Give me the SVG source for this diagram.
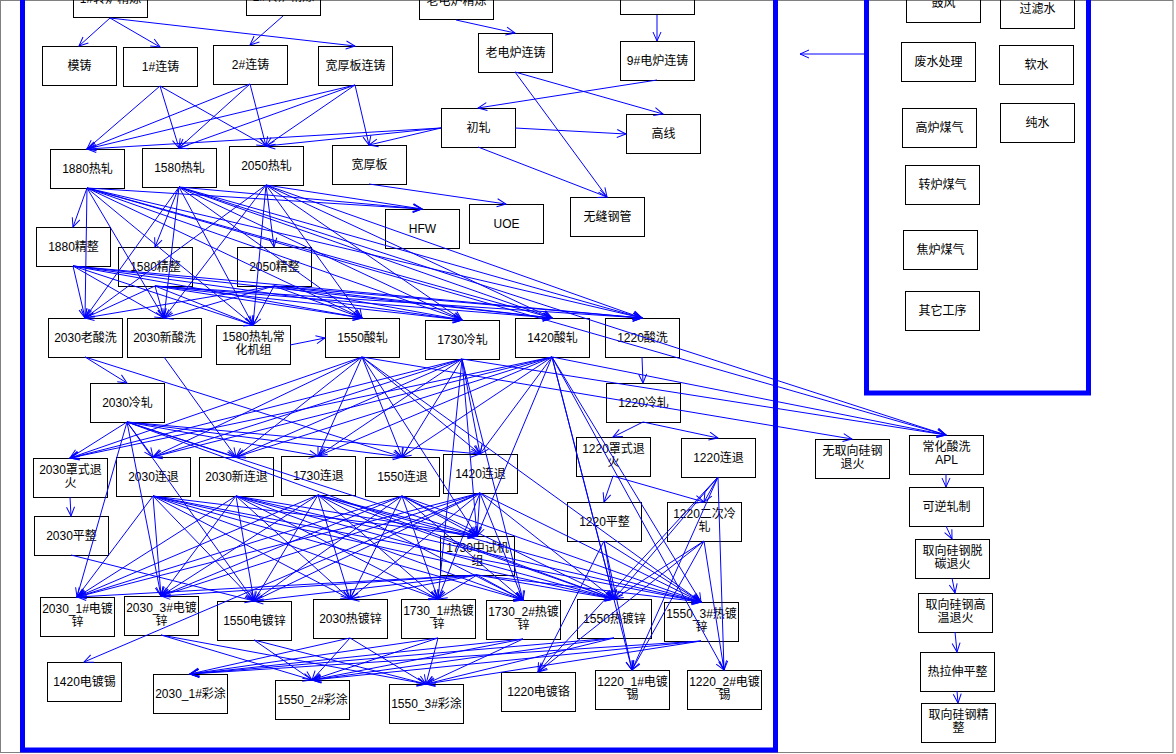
<svg xmlns="http://www.w3.org/2000/svg" width="1176" height="754" viewBox="0 0 1176 754">
<defs>
<marker id="a" markerUnits="userSpaceOnUse" markerWidth="20" markerHeight="20" refX="0" refY="0" orient="auto" style="overflow:visible"><path d="M-9,-4 L0,0 L-9,4" fill="none" stroke="#0000ff" stroke-width="1"/></marker>
<style>
.n rect{fill:none;stroke:#000;stroke-width:1}
text{font-family:"Liberation Sans","Noto Sans CJK SC",sans-serif;font-size:12px;text-anchor:middle;fill:#000}
#connectors line{stroke:#0000ff;stroke-width:1;marker-end:url(#a)}
.frame{fill:none;stroke:#0000ff;stroke-width:5}
</style>
</defs>
<rect width="1176" height="754" fill="#fff"/>
<rect x="0.5" y="0.5" width="1172.5" height="752" fill="none" stroke="#808080" stroke-width="1"/>
<rect class="frame" x="22.5" y="-10" width="753" height="760"/>
<rect class="frame" x="866.5" y="-10" width="222" height="403"/>

<g id="n_zl1" class="n"><rect x="73.5" y="-21.5" width="74" height="39"/><text x="110.5" y="3">1#转炉精炼</text></g>
<g id="n_zl2" class="n"><rect x="246.5" y="-23.5" width="74" height="39"/><text x="283.5" y="1">2#转炉精炼</text></g>
<g id="n_ldl" class="n"><rect x="419.5" y="-19.5" width="74" height="39"/><text x="456.5" y="5">老电炉精炼</text></g>
<g id="n_dl9" class="n"><rect x="620.5" y="-24.5" width="74" height="39"/></g>
<g id="n_mz" class="n"><rect x="42.5" y="46.5" width="74" height="39"/><text x="79.5" y="70">模铸</text></g>
<g id="n_lz1" class="n"><rect x="123.5" y="47.5" width="74" height="39"/><text x="160.5" y="71">1#连铸</text></g>
<g id="n_lz2" class="n"><rect x="213.5" y="45.5" width="74" height="39"/><text x="250.5" y="69">2#连铸</text></g>
<g id="n_kbl" class="n"><rect x="318.5" y="46.5" width="74" height="39"/><text x="355.5" y="70">宽厚板连铸</text></g>
<g id="n_ldlz" class="n"><rect x="478.5" y="33.5" width="74" height="39"/><text x="515.5" y="57">老电炉连铸</text></g>
<g id="n_dl9z" class="n"><rect x="620.5" y="41.5" width="74" height="39"/><text x="657.5" y="65">9#电炉连铸</text></g>
<g id="n_r1880" class="n"><rect x="50.5" y="149.5" width="74" height="39"/><text x="87.5" y="173">1880热轧</text></g>
<g id="n_r1580" class="n"><rect x="142.5" y="148.5" width="74" height="39"/><text x="179.5" y="172">1580热轧</text></g>
<g id="n_r2050" class="n"><rect x="229.5" y="146.5" width="74" height="39"/><text x="266.5" y="170">2050热轧</text></g>
<g id="n_kb" class="n"><rect x="332.5" y="145.5" width="74" height="39"/><text x="369.5" y="169">宽厚板</text></g>
<g id="n_cz" class="n"><rect x="441.5" y="108.5" width="74" height="39"/><text x="478.5" y="132">初轧</text></g>
<g id="n_gx" class="n"><rect x="626.5" y="114.5" width="74" height="39"/><text x="663.5" y="138">高线</text></g>
<g id="n_wf" class="n"><rect x="570.5" y="197.5" width="74" height="39"/><text x="607.5" y="221">无缝钢管</text></g>
<g id="n_hfw" class="n"><rect x="385.5" y="209.5" width="74" height="39"/><text x="422.5" y="233">HFW</text></g>
<g id="n_uoe" class="n"><rect x="469.5" y="204.5" width="74" height="39"/><text x="506.5" y="228">UOE</text></g>
<g id="n_jz1880" class="n"><rect x="36.5" y="227.5" width="74" height="39"/><text x="73.5" y="251">1880精整</text></g>
<g id="n_jz1580" class="n"><rect x="118.5" y="247.5" width="74" height="39"/><text x="155.5" y="271">1580精整</text></g>
<g id="n_jz2050" class="n"><rect x="237.5" y="247.5" width="74" height="39"/><text x="274.5" y="271">2050精整</text></g>
<g id="n_ls2030o" class="n"><rect x="48.5" y="318.5" width="74" height="39"/><text x="85.5" y="342">2030老酸洗</text></g>
<g id="n_ls2030n" class="n"><rect x="127.5" y="318.5" width="74" height="39"/><text x="164.5" y="342">2030新酸洗</text></g>
<g id="n_ch1580" class="n"><rect x="216.5" y="325.5" width="74" height="39"/><text x="253.5" y="341">1580热轧常</text><text x="253.5" y="354">化机组</text></g>
<g id="n_sz1550" class="n"><rect x="325.5" y="318.5" width="74" height="39"/><text x="362.5" y="342">1550酸轧</text></g>
<g id="n_lz1730" class="n"><rect x="425.5" y="320.5" width="74" height="39"/><text x="462.5" y="344">1730冷轧</text></g>
<g id="n_sz1420" class="n"><rect x="515.5" y="318.5" width="74" height="39"/><text x="552.5" y="342">1420酸轧</text></g>
<g id="n_sx1220" class="n"><rect x="605.5" y="318.5" width="74" height="39"/><text x="642.5" y="342">1220酸洗</text></g>
<g id="n_lz2030" class="n"><rect x="90.5" y="383.5" width="74" height="39"/><text x="127.5" y="407">2030冷轧</text></g>
<g id="n_lz1220" class="n"><rect x="606.5" y="383.5" width="74" height="39"/><text x="643.5" y="407">1220冷轧</text></g>
<g id="n_zs2030" class="n"><rect x="33.5" y="458.5" width="74" height="39"/><text x="70.5" y="474">2030罩式退</text><text x="70.5" y="487">火</text></g>
<g id="n_lt2030" class="n"><rect x="116.5" y="457.5" width="74" height="39"/><text x="153.5" y="481">2030连退</text></g>
<g id="n_xlt2030" class="n"><rect x="199.5" y="457.5" width="74" height="39"/><text x="236.5" y="481">2030新连退</text></g>
<g id="n_lt1730" class="n"><rect x="281.5" y="456.5" width="74" height="39"/><text x="318.5" y="480">1730连退</text></g>
<g id="n_lt1550" class="n"><rect x="365.5" y="457.5" width="74" height="39"/><text x="402.5" y="481">1550连退</text></g>
<g id="n_lt1420" class="n"><rect x="443.5" y="454.5" width="74" height="39"/><text x="480.5" y="478">1420连退</text></g>
<g id="n_zs1220" class="n"><rect x="576.5" y="437.5" width="74" height="39"/><text x="613.5" y="453">1220罩式退</text><text x="613.5" y="466">火</text></g>
<g id="n_lt1220" class="n"><rect x="681.5" y="438.5" width="74" height="39"/><text x="718.5" y="462">1220连退</text></g>
<g id="n_pz2030" class="n"><rect x="34.5" y="516.5" width="74" height="39"/><text x="71.5" y="540">2030平整</text></g>
<g id="n_zs1730" class="n"><rect x="440.5" y="536.5" width="74" height="39"/><text x="477.5" y="552">1730中试机</text><text x="477.5" y="565">组</text></g>
<g id="n_pz1220" class="n"><rect x="567.5" y="502.5" width="74" height="39"/><text x="604.5" y="526">1220平整</text></g>
<g id="n_ec1220" class="n"><rect x="667.5" y="502.5" width="74" height="39"/><text x="704.5" y="518">1220二次冷</text><text x="704.5" y="531">轧</text></g>
<g id="n_dx2030_1" class="n"><rect x="40.5" y="597.5" width="74" height="39"/><text x="77.5" y="613">2030_1#电镀</text><text x="77.5" y="626">锌</text></g>
<g id="n_dx2030_3" class="n"><rect x="124.5" y="596.5" width="74" height="39"/><text x="161.5" y="612">2030_3#电镀</text><text x="161.5" y="625">锌</text></g>
<g id="n_dx1550" class="n"><rect x="217.5" y="601.5" width="74" height="39"/><text x="254.5" y="625">1550电镀锌</text></g>
<g id="n_rx2030" class="n"><rect x="313.5" y="599.5" width="74" height="39"/><text x="350.5" y="623">2030热镀锌</text></g>
<g id="n_rx1730_1" class="n"><rect x="401.5" y="599.5" width="74" height="39"/><text x="438.5" y="615">1730_1#热镀</text><text x="438.5" y="628">锌</text></g>
<g id="n_rx1730_2" class="n"><rect x="486.5" y="600.5" width="74" height="39"/><text x="523.5" y="616">1730_2#热镀</text><text x="523.5" y="629">锌</text></g>
<g id="n_rx1550" class="n"><rect x="577.5" y="599.5" width="74" height="39"/><text x="614.5" y="623">1550热镀锌</text></g>
<g id="n_rx1550_3" class="n"><rect x="664.5" y="602.5" width="74" height="39"/><text x="701.5" y="618">1550_3#热镀</text><text x="701.5" y="631">锌</text></g>
<g id="n_dx1420" class="n"><rect x="47.5" y="662.5" width="74" height="39"/><text x="84.5" y="686">1420电镀锡</text></g>
<g id="n_ct2030_1" class="n"><rect x="153.5" y="674.5" width="74" height="39"/><text x="190.5" y="698">2030_1#彩涂</text></g>
<g id="n_ct1550_2" class="n"><rect x="275.5" y="680.5" width="74" height="39"/><text x="312.5" y="704">1550_2#彩涂</text></g>
<g id="n_ct1550_3" class="n"><rect x="389.5" y="684.5" width="74" height="39"/><text x="426.5" y="708">1550_3#彩涂</text></g>
<g id="n_dg1220" class="n"><rect x="501.5" y="672.5" width="74" height="39"/><text x="538.5" y="696">1220电镀铬</text></g>
<g id="n_dx1220_1" class="n"><rect x="595.5" y="670.5" width="74" height="39"/><text x="632.5" y="686">1220_1#电镀</text><text x="632.5" y="699">锡</text></g>
<g id="n_dx1220_2" class="n"><rect x="687.5" y="670.5" width="74" height="39"/><text x="724.5" y="686">1220_2#电镀</text><text x="724.5" y="699">锡</text></g>
<g id="n_wqx" class="n"><rect x="815.5" y="439.5" width="74" height="39"/><text x="852.5" y="455">无取向硅钢</text><text x="852.5" y="468">退火</text></g>
<g id="n_apl" class="n"><rect x="909.5" y="435.5" width="74" height="39"/><text x="946.5" y="451">常化酸洗</text><text x="946.5" y="464">APL</text></g>
<g id="n_kn" class="n"><rect x="909.5" y="487.5" width="74" height="39"/><text x="946.5" y="511">可逆轧制</text></g>
<g id="n_tt" class="n"><rect x="915.5" y="539.5" width="74" height="39"/><text x="952.5" y="555">取向硅钢脱</text><text x="952.5" y="568">碳退火</text></g>
<g id="n_gw" class="n"><rect x="918.5" y="593.5" width="74" height="39"/><text x="955.5" y="609">取向硅钢高</text><text x="955.5" y="622">温退火</text></g>
<g id="n_lsp" class="n"><rect x="920.5" y="652.5" width="74" height="39"/><text x="957.5" y="676">热拉伸平整</text></g>
<g id="n_jzq" class="n"><rect x="921.5" y="703.5" width="74" height="39"/><text x="958.5" y="719">取向硅钢精</text><text x="958.5" y="732">整</text></g>
<g id="n_gf" class="n"><rect x="906.5" y="-16.5" width="74" height="39"/><text x="943.5" y="7">鼓风</text></g>
<g id="n_glv" class="n"><rect x="1000.5" y="-10.5" width="74" height="39"/><text x="1037.5" y="13">过滤水</text></g>
<g id="n_fs" class="n"><rect x="901.5" y="42.5" width="74" height="39"/><text x="938.5" y="66">废水处理</text></g>
<g id="n_rs" class="n"><rect x="999.5" y="45.5" width="74" height="39"/><text x="1036.5" y="69">软水</text></g>
<g id="n_gl" class="n"><rect x="902.5" y="108.5" width="74" height="39"/><text x="939.5" y="132">高炉煤气</text></g>
<g id="n_cs" class="n"><rect x="1000.5" y="103.5" width="74" height="39"/><text x="1037.5" y="127">纯水</text></g>
<g id="n_zlm" class="n"><rect x="905.5" y="165.5" width="74" height="39"/><text x="942.5" y="189">转炉煤气</text></g>
<g id="n_jlm" class="n"><rect x="903.5" y="230.5" width="74" height="39"/><text x="940.5" y="254">焦炉煤气</text></g>
<g id="n_qt" class="n"><rect x="905.5" y="291.5" width="74" height="39"/><text x="942.5" y="315">其它工序</text></g>

<g id="connectors">
<line x1="866" y1="54" x2="800" y2="54"/>
<line x1="110" y1="18" x2="79" y2="46"/>
<line x1="110" y1="18" x2="160" y2="47"/>
<line x1="110" y1="18" x2="355" y2="46"/>
<line x1="283" y1="16" x2="250" y2="45"/>
<line x1="456" y1="20" x2="515" y2="33"/>
<line x1="657" y1="15" x2="657" y2="41"/>
<line x1="160" y1="86" x2="87" y2="149"/>
<line x1="160" y1="86" x2="179" y2="148"/>
<line x1="160" y1="86" x2="266" y2="146"/>
<line x1="250" y1="84" x2="87" y2="149"/>
<line x1="250" y1="84" x2="179" y2="148"/>
<line x1="250" y1="84" x2="266" y2="146"/>
<line x1="355" y1="85" x2="87" y2="149"/>
<line x1="355" y1="85" x2="179" y2="148"/>
<line x1="355" y1="85" x2="266" y2="146"/>
<line x1="355" y1="85" x2="369" y2="145"/>
<line x1="515" y1="72" x2="663" y2="114"/>
<line x1="515" y1="72" x2="607" y2="197"/>
<line x1="657" y1="80" x2="478" y2="108"/>
<line x1="441" y1="128" x2="87" y2="149"/>
<line x1="441" y1="128" x2="266" y2="146"/>
<line x1="441" y1="128" x2="369" y2="145"/>
<line x1="515" y1="128" x2="626" y2="134"/>
<line x1="478" y1="147" x2="607" y2="197"/>
<line x1="369" y1="184" x2="506" y2="204"/>
<line x1="87" y1="188" x2="422" y2="209"/>
<line x1="179" y1="187" x2="422" y2="209"/>
<line x1="266" y1="185" x2="422" y2="209"/>
<line x1="87" y1="188" x2="73" y2="227"/>
<line x1="179" y1="187" x2="155" y2="247"/>
<line x1="266" y1="185" x2="274" y2="247"/>
<line x1="87" y1="188" x2="85" y2="318"/>
<line x1="87" y1="188" x2="164" y2="318"/>
<line x1="87" y1="188" x2="253" y2="325"/>
<line x1="87" y1="188" x2="362" y2="318"/>
<line x1="87" y1="188" x2="462" y2="320"/>
<line x1="87" y1="188" x2="552" y2="318"/>
<line x1="87" y1="188" x2="642" y2="318"/>
<line x1="179" y1="187" x2="85" y2="318"/>
<line x1="179" y1="187" x2="164" y2="318"/>
<line x1="179" y1="187" x2="253" y2="325"/>
<line x1="179" y1="187" x2="362" y2="318"/>
<line x1="179" y1="187" x2="462" y2="320"/>
<line x1="179" y1="187" x2="552" y2="318"/>
<line x1="179" y1="187" x2="642" y2="318"/>
<line x1="266" y1="185" x2="85" y2="318"/>
<line x1="266" y1="185" x2="164" y2="318"/>
<line x1="266" y1="185" x2="253" y2="325"/>
<line x1="266" y1="185" x2="362" y2="318"/>
<line x1="266" y1="185" x2="462" y2="320"/>
<line x1="266" y1="185" x2="552" y2="318"/>
<line x1="266" y1="185" x2="642" y2="318"/>
<line x1="73" y1="266" x2="85" y2="318"/>
<line x1="73" y1="266" x2="164" y2="318"/>
<line x1="73" y1="266" x2="253" y2="325"/>
<line x1="73" y1="266" x2="362" y2="318"/>
<line x1="73" y1="266" x2="462" y2="320"/>
<line x1="73" y1="266" x2="552" y2="318"/>
<line x1="73" y1="266" x2="642" y2="318"/>
<line x1="155" y1="286" x2="85" y2="318"/>
<line x1="155" y1="286" x2="164" y2="318"/>
<line x1="155" y1="286" x2="253" y2="325"/>
<line x1="155" y1="286" x2="362" y2="318"/>
<line x1="155" y1="286" x2="462" y2="320"/>
<line x1="155" y1="286" x2="552" y2="318"/>
<line x1="155" y1="286" x2="642" y2="318"/>
<line x1="274" y1="286" x2="85" y2="318"/>
<line x1="274" y1="286" x2="164" y2="318"/>
<line x1="274" y1="286" x2="253" y2="325"/>
<line x1="274" y1="286" x2="362" y2="318"/>
<line x1="274" y1="286" x2="462" y2="320"/>
<line x1="274" y1="286" x2="552" y2="318"/>
<line x1="274" y1="286" x2="642" y2="318"/>
<line x1="87" y1="188" x2="946" y2="435"/>
<line x1="179" y1="187" x2="946" y2="435"/>
<line x1="552" y1="357" x2="946" y2="435"/>
<line x1="462" y1="359" x2="946" y2="435"/>
<line x1="362" y1="357" x2="852" y2="439"/>
<line x1="290" y1="345" x2="325" y2="338"/>
<line x1="85" y1="357" x2="127" y2="383"/>
<line x1="85" y1="357" x2="402" y2="457"/>
<line x1="164" y1="357" x2="236" y2="457"/>
<line x1="642" y1="357" x2="643" y2="383"/>
<line x1="643" y1="422" x2="613" y2="437"/>
<line x1="643" y1="422" x2="718" y2="438"/>
<line x1="127" y1="422" x2="70" y2="458"/>
<line x1="127" y1="422" x2="153" y2="457"/>
<line x1="127" y1="422" x2="236" y2="457"/>
<line x1="127" y1="422" x2="318" y2="456"/>
<line x1="127" y1="422" x2="402" y2="457"/>
<line x1="127" y1="422" x2="480" y2="454"/>
<line x1="127" y1="422" x2="477" y2="536"/>
<line x1="362" y1="357" x2="70" y2="458"/>
<line x1="362" y1="357" x2="153" y2="457"/>
<line x1="362" y1="357" x2="236" y2="457"/>
<line x1="362" y1="357" x2="318" y2="456"/>
<line x1="362" y1="357" x2="402" y2="457"/>
<line x1="362" y1="357" x2="480" y2="454"/>
<line x1="362" y1="357" x2="477" y2="536"/>
<line x1="462" y1="359" x2="70" y2="458"/>
<line x1="462" y1="359" x2="153" y2="457"/>
<line x1="462" y1="359" x2="236" y2="457"/>
<line x1="462" y1="359" x2="318" y2="456"/>
<line x1="462" y1="359" x2="402" y2="457"/>
<line x1="462" y1="359" x2="480" y2="454"/>
<line x1="462" y1="359" x2="477" y2="536"/>
<line x1="552" y1="357" x2="70" y2="458"/>
<line x1="552" y1="357" x2="153" y2="457"/>
<line x1="552" y1="357" x2="236" y2="457"/>
<line x1="552" y1="357" x2="318" y2="456"/>
<line x1="552" y1="357" x2="402" y2="457"/>
<line x1="552" y1="357" x2="480" y2="454"/>
<line x1="552" y1="357" x2="477" y2="536"/>
<line x1="153" y1="496" x2="477" y2="536"/>
<line x1="236" y1="496" x2="477" y2="536"/>
<line x1="318" y1="495" x2="477" y2="536"/>
<line x1="402" y1="496" x2="477" y2="536"/>
<line x1="480" y1="493" x2="477" y2="536"/>
<line x1="70" y1="497" x2="71" y2="516"/>
<line x1="71" y1="555" x2="254" y2="601"/>
<line x1="127" y1="422" x2="77" y2="597"/>
<line x1="127" y1="422" x2="161" y2="596"/>
<line x1="127" y1="422" x2="254" y2="601"/>
<line x1="127" y1="422" x2="614" y2="599"/>
<line x1="153" y1="496" x2="77" y2="597"/>
<line x1="153" y1="496" x2="161" y2="596"/>
<line x1="153" y1="496" x2="254" y2="601"/>
<line x1="153" y1="496" x2="350" y2="599"/>
<line x1="153" y1="496" x2="438" y2="599"/>
<line x1="153" y1="496" x2="523" y2="600"/>
<line x1="153" y1="496" x2="614" y2="599"/>
<line x1="153" y1="496" x2="701" y2="602"/>
<line x1="236" y1="496" x2="77" y2="597"/>
<line x1="236" y1="496" x2="161" y2="596"/>
<line x1="236" y1="496" x2="254" y2="601"/>
<line x1="236" y1="496" x2="350" y2="599"/>
<line x1="236" y1="496" x2="438" y2="599"/>
<line x1="236" y1="496" x2="523" y2="600"/>
<line x1="236" y1="496" x2="614" y2="599"/>
<line x1="236" y1="496" x2="701" y2="602"/>
<line x1="318" y1="495" x2="77" y2="597"/>
<line x1="318" y1="495" x2="161" y2="596"/>
<line x1="318" y1="495" x2="254" y2="601"/>
<line x1="318" y1="495" x2="350" y2="599"/>
<line x1="318" y1="495" x2="438" y2="599"/>
<line x1="318" y1="495" x2="523" y2="600"/>
<line x1="318" y1="495" x2="614" y2="599"/>
<line x1="318" y1="495" x2="701" y2="602"/>
<line x1="402" y1="496" x2="77" y2="597"/>
<line x1="402" y1="496" x2="161" y2="596"/>
<line x1="402" y1="496" x2="254" y2="601"/>
<line x1="402" y1="496" x2="350" y2="599"/>
<line x1="402" y1="496" x2="438" y2="599"/>
<line x1="402" y1="496" x2="523" y2="600"/>
<line x1="402" y1="496" x2="614" y2="599"/>
<line x1="402" y1="496" x2="701" y2="602"/>
<line x1="480" y1="493" x2="77" y2="597"/>
<line x1="480" y1="493" x2="161" y2="596"/>
<line x1="480" y1="493" x2="254" y2="601"/>
<line x1="480" y1="493" x2="350" y2="599"/>
<line x1="480" y1="493" x2="438" y2="599"/>
<line x1="480" y1="493" x2="523" y2="600"/>
<line x1="480" y1="493" x2="614" y2="599"/>
<line x1="480" y1="493" x2="701" y2="602"/>
<line x1="477" y1="575" x2="77" y2="597"/>
<line x1="477" y1="575" x2="161" y2="596"/>
<line x1="477" y1="575" x2="254" y2="601"/>
<line x1="477" y1="575" x2="350" y2="599"/>
<line x1="477" y1="575" x2="438" y2="599"/>
<line x1="477" y1="575" x2="523" y2="600"/>
<line x1="477" y1="575" x2="614" y2="599"/>
<line x1="477" y1="575" x2="701" y2="602"/>
<line x1="362" y1="357" x2="701" y2="602"/>
<line x1="552" y1="357" x2="614" y2="599"/>
<line x1="552" y1="357" x2="701" y2="602"/>
<line x1="552" y1="357" x2="632" y2="670"/>
<line x1="552" y1="357" x2="724" y2="670"/>
<line x1="462" y1="359" x2="438" y2="599"/>
<line x1="462" y1="359" x2="523" y2="600"/>
<line x1="480" y1="493" x2="84" y2="662"/>
<line x1="613" y1="476" x2="604" y2="502"/>
<line x1="613" y1="476" x2="704" y2="502"/>
<line x1="718" y1="477" x2="704" y2="502"/>
<line x1="718" y1="477" x2="724" y2="670"/>
<line x1="718" y1="477" x2="632" y2="670"/>
<line x1="718" y1="477" x2="538" y2="672"/>
<line x1="718" y1="477" x2="614" y2="599"/>
<line x1="604" y1="541" x2="538" y2="672"/>
<line x1="604" y1="541" x2="614" y2="599"/>
<line x1="604" y1="541" x2="632" y2="670"/>
<line x1="604" y1="541" x2="701" y2="602"/>
<line x1="704" y1="541" x2="632" y2="670"/>
<line x1="704" y1="541" x2="724" y2="670"/>
<line x1="704" y1="541" x2="538" y2="672"/>
<line x1="704" y1="541" x2="614" y2="599"/>
<line x1="161" y1="635" x2="312" y2="680"/>
<line x1="161" y1="635" x2="426" y2="684"/>
<line x1="254" y1="640" x2="312" y2="680"/>
<line x1="254" y1="640" x2="426" y2="684"/>
<line x1="350" y1="638" x2="190" y2="674"/>
<line x1="350" y1="638" x2="312" y2="680"/>
<line x1="350" y1="638" x2="426" y2="684"/>
<line x1="438" y1="638" x2="190" y2="674"/>
<line x1="438" y1="638" x2="312" y2="680"/>
<line x1="438" y1="638" x2="426" y2="684"/>
<line x1="523" y1="639" x2="190" y2="674"/>
<line x1="523" y1="639" x2="312" y2="680"/>
<line x1="523" y1="639" x2="426" y2="684"/>
<line x1="614" y1="638" x2="190" y2="674"/>
<line x1="614" y1="638" x2="312" y2="680"/>
<line x1="614" y1="638" x2="426" y2="684"/>
<line x1="701" y1="641" x2="190" y2="674"/>
<line x1="701" y1="641" x2="312" y2="680"/>
<line x1="701" y1="641" x2="426" y2="684"/>
<line x1="946" y1="474" x2="946" y2="487"/>
<line x1="946" y1="526" x2="952" y2="539"/>
<line x1="952" y1="578" x2="955" y2="593"/>
<line x1="955" y1="632" x2="957" y2="652"/>
<line x1="957" y1="691" x2="958" y2="703"/>
</g>
</svg>
